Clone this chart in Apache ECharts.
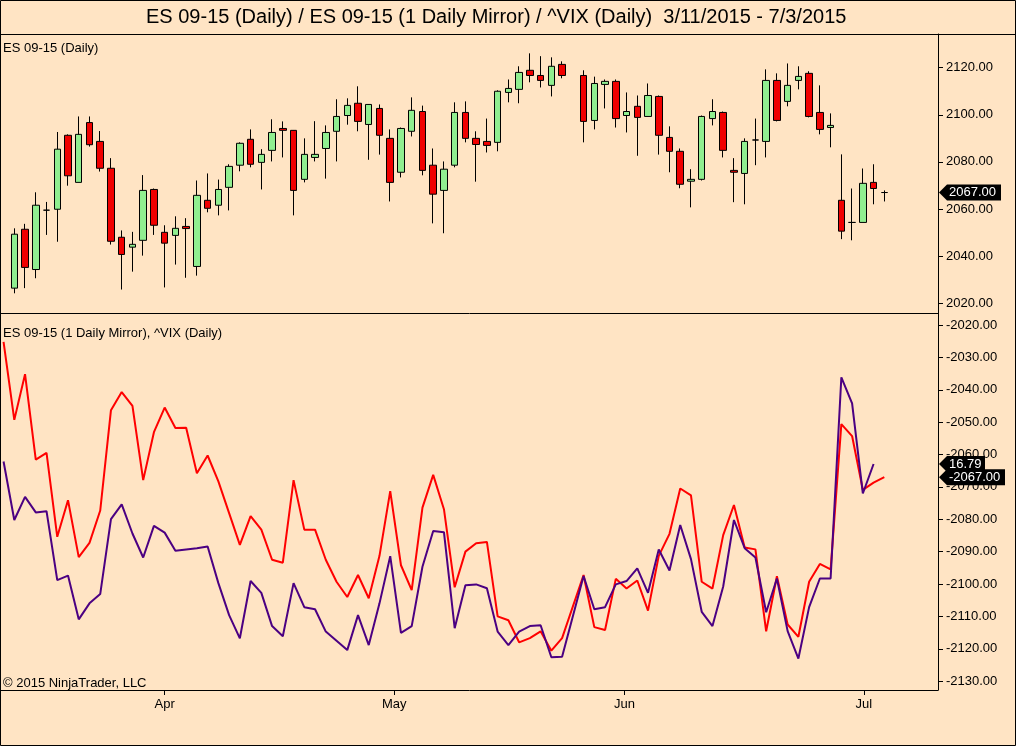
<!DOCTYPE html>
<html>
<head>
<meta charset="utf-8">
<script src="https://cdn.jsdelivr.net/npm/echarts@6/dist/echarts.min.js"></script>
<style>
    html, body { margin: 0; padding: 0; background: #FFE4C4; }
    #chart { width: 1016px; height: 746px; }
</style>
</head>
<body>
<div id="chart"></div>
<script>
// ES 09-15 daily bars, one slot per session (slot 0 = 3/12). Slot 52 is Memorial Day: no bar.
const esOpen = [
    2026.4, 2051.4, 2034.3, 2059.5, 2059.9, 2091.3, 2071.3, 2096.7, 2088.7, 2077.3,
    2048.0, 2043.8, 2046.7, 2068.3, 2050.1, 2048.8, 2052.6, 2035.6, 2063.7, 2061.6,
    2069.2, 2078.6, 2089.6, 2079.8, 2084.9, 2094.2, 2093.4, 2072.6, 2081.9, 2085.7,
    2093.0, 2099.7, 2104.9, 2095.9, 2102.7, 2090.0, 2075.6, 2093.0, 2101.4, 2078.6,
    2067.9, 2078.6, 2101.0, 2090.0, 2088.7, 2088.3, 2109.5, 2110.8, 2118.9, 2116.7,
    2112.5, 2121.4, null, 2116.7, 2097.6, 2112.9, 2114.2, 2099.7, 2103.6, 2099.3,
    2107.8, 2090.4, 2084.5, 2071.8, 2072.6, 2098.4, 2101.0, 2076.4, 2075.1, 2089.3,
    2088.7, 2114.6, 2105.7, 2114.6, 2117.6, 2101.0, 2094.6, 2063.7, 2054.3, 2054.3,
    2071.3, 2067.0
];
const esHigh = [
    2051.8, 2053.7, 2067.1, 2063.0, 2092.7, 2091.7, 2099.3, 2099.3, 2093.1, 2081.6,
    2050.9, 2050.3, 2074.4, 2068.7, 2053.1, 2056.9, 2056.1, 2072.1, 2075.1, 2072.5,
    2079.0, 2088.3, 2093.8, 2085.4, 2098.1, 2097.2, 2093.5, 2090.0, 2097.3, 2095.5,
    2106.6, 2107.0, 2112.1, 2104.5, 2104.4, 2093.8, 2094.6, 2107.4, 2103.9, 2085.7,
    2080.2, 2105.3, 2105.7, 2093.0, 2098.4, 2110.4, 2115.0, 2120.6, 2126.1, 2124.9,
    2124.4, 2122.7, null, 2118.9, 2116.2, 2115.0, 2115.0, 2109.5, 2108.2, 2113.3,
    2108.2, 2095.1, 2085.7, 2076.9, 2099.7, 2106.6, 2101.4, 2081.6, 2090.0, 2098.4,
    2119.3, 2117.6, 2121.8, 2120.6, 2118.5, 2112.5, 2100.6, 2083.2, 2068.7, 2077.2,
    2079.0, 2067.9
];
const esLow = [
    2024.2, 2026.4, 2030.6, 2049.0, 2046.1, 2069.9, 2071.3, 2086.5, 2075.9, 2044.9,
    2025.8, 2033.4, 2040.2, 2049.0, 2026.7, 2036.4, 2030.8, 2031.7, 2058.6, 2057.3,
    2059.4, 2076.0, 2077.7, 2068.3, 2080.2, 2081.9, 2057.3, 2071.3, 2080.2, 2072.9,
    2080.2, 2095.8, 2093.0, 2080.9, 2083.1, 2063.2, 2073.4, 2090.8, 2074.3, 2053.9,
    2049.7, 2077.7, 2088.3, 2071.6, 2084.0, 2084.5, 2105.3, 2104.9, 2113.8, 2111.6,
    2107.8, 2115.5, null, 2088.3, 2093.8, 2102.7, 2094.6, 2092.5, 2082.6, 2099.3,
    2083.1, 2075.6, 2068.8, 2060.7, 2072.1, 2095.5, 2081.9, 2062.9, 2062.0, 2078.6,
    2081.9, 2097.2, 2103.6, 2110.8, 2098.9, 2091.7, 2086.2, 2047.2, 2046.7, 2054.3,
    2062.0, 2063.2
];
const esClose = [
    2049.3, 2035.2, 2061.6, 2059.5, 2085.4, 2074.1, 2091.7, 2087.3, 2077.3, 2046.3,
    2040.7, 2045.0, 2067.9, 2053.1, 2045.5, 2051.8, 2051.7, 2065.8, 2060.3, 2068.3,
    2078.1, 2087.9, 2079.0, 2083.2, 2092.5, 2093.4, 2067.9, 2083.2, 2083.2, 2092.5,
    2099.3, 2104.0, 2097.2, 2104.4, 2091.3, 2071.3, 2094.2, 2101.9, 2076.4, 2066.3,
    2076.9, 2101.0, 2090.0, 2087.4, 2087.0, 2110.0, 2111.2, 2118.0, 2116.7, 2114.6,
    2120.6, 2116.7, null, 2097.2, 2113.3, 2114.2, 2098.4, 2101.4, 2098.9, 2108.2,
    2091.3, 2084.5, 2070.5, 2072.6, 2099.3, 2101.4, 2084.9, 2075.6, 2088.7, 2089.3,
    2114.6, 2097.6, 2112.5, 2116.3, 2099.3, 2093.8, 2095.5, 2050.6, 2054.3, 2070.9,
    2068.7, 2067.0
];

// lower panel series start one slot earlier (slot -1 = 3/11)
const mirrorClose = [
    -2025.2,
    -2049.3, -2035.2, -2061.6, -2059.5, -2085.4, -2074.1, -2091.7, -2087.3, -2077.3, -2046.3,
    -2040.7, -2045.0, -2067.9, -2053.1, -2045.5, -2051.8, -2051.7, -2065.8, -2060.3, -2068.3,
    -2078.1, -2087.9, -2079.0, -2083.2, -2092.5, -2093.4, -2067.9, -2083.2, -2083.2, -2092.5,
    -2099.3, -2104.0, -2097.2, -2104.4, -2091.3, -2071.3, -2094.2, -2101.9, -2076.4, -2066.3,
    -2076.9, -2101.0, -2090.0, -2087.4, -2087.0, -2110.0, -2111.2, -2118.0, -2116.7, -2114.6,
    -2120.6, -2116.7, null, -2097.2, -2113.3, -2114.2, -2098.4, -2101.4, -2098.9, -2108.2,
    -2091.3, -2084.5, -2070.5, -2072.6, -2099.3, -2101.4, -2084.9, -2075.6, -2088.7, -2089.3,
    -2114.6, -2097.6, -2112.5, -2116.3, -2099.3, -2093.8, -2095.5, -2050.6, -2054.3, -2070.9,
    -2068.7, -2067.0
];
const vixClose = [
    16.85, 15.46, 16.01, 15.64, 15.67, 14.03, 14.14, 13.10, 13.48, 13.70,
    15.48, 15.83, 15.14, 14.57, 15.32, 15.16, 14.73, 14.76, 14.79, 14.83,
    13.96, 13.20, 12.65, 14.01, 13.73, 12.94, 12.70, 13.96, 13.39, 13.34,
    12.81, 12.59, 12.37, 13.20, 12.49, 13.48, 14.60, 12.78, 12.94, 14.35,
    15.20, 15.17, 12.89, 13.91, 13.93, 13.84, 12.81, 12.49, 12.81, 12.94,
    12.96, 12.20, 12.21, null, 14.13, 13.34, 13.39, 13.93, 14.01, 14.31,
    13.73, 14.76, 14.26, 15.34, 14.53, 13.28, 12.94, 13.88, 15.46, 14.79,
    14.57, 13.27, 14.07, 12.82, 12.17, 13.39, 14.07, 14.07, 18.85, 18.23,
    16.09, 16.79
];

// month ticks sit between sessions, so they are fractional slot positions
const monthTicks = [14.0, 35.38, 56.8, 79.1];
const monthLabels = ['Apr', 'May', 'Jun', 'Jul'];
const priceTicks = [2020, 2040, 2060, 2080, 2100, 2120];
const mirrorTicks = [-2020, -2030, -2040, -2050, -2060, -2070, -2080, -2090, -2100, -2110, -2120, -2130];

const FONT = '"Liberation Sans", Arial, sans-serif';
const X_MIN = -1.238, X_MAX = 85.998;

let chart = echarts.init(document.getElementById('chart'));

const candles = [];
esOpen.forEach(function (o, i) {
    if (o == null) return;
    candles.push([i, o, esClose[i], esLow[i], esHigh[i]]);
});
const mirrorData = mirrorClose.map(function (v, i) { return [i - 1, v]; });
const vixData = vixClose.map(function (v, i) { return [i - 1, v]; });

const rightAxis = function (grid, min, max, ticks) {
    return {
        type: 'value', gridIndex: grid, position: 'right', min: min, max: max,
        axisLine: {show: true, onZero: false, lineStyle: {color: '#000', width: 1}},
        axisTick: {show: true, length: 5, customValues: ticks, lineStyle: {color: '#000'}},
        axisLabel: {
            customValues: ticks, margin: 8, color: '#000', fontSize: 13, fontFamily: FONT,
            formatter: function (v) { return v.toFixed(2); }
        },
        splitLine: {show: false}
    };
};

let option = {
    animation: false,
    backgroundColor: '#FFE4C4',
    grid: [
        {left: 1, right: 78, top: 34, height: 279},
        {left: 1, right: 78, top: 313, height: 377}
    ],
    xAxis: [
        {
            type: 'value', gridIndex: 0, min: X_MIN, max: X_MAX,
            axisLine: {show: true, onZero: false, lineStyle: {color: '#000'}},
            axisTick: {show: false}, axisLabel: {show: false}, splitLine: {show: false}
        },
        {
            type: 'value', gridIndex: 1, min: X_MIN, max: X_MAX,
            axisLine: {show: true, onZero: false, lineStyle: {color: '#000'}},
            axisTick: {show: true, length: 5, customValues: monthTicks, lineStyle: {color: '#000'}},
            axisLabel: {
                customValues: monthTicks, margin: 8, color: '#000', fontSize: 13, fontFamily: FONT,
                formatter: function (v) {
                    let k = monthTicks.indexOf(v);
                    return k >= 0 ? monthLabels[k] : '';
                }
            },
            splitLine: {show: false}
        }
    ],
    yAxis: [
        rightAxis(0, 2015.84, 2134.31, priceTicks),
        rightAxis(1, -2132.73, -2016.29, mirrorTicks),
        // VIX has its own hidden scale on the lower panel
        {type: 'value', gridIndex: 1, show: false, min: 11.422, max: 20.377, splitLine: {show: false}}
    ],
    series: [
        {
            name: 'ES 09-15 (Daily)',
            type: 'candlestick',
            xAxisIndex: 0, yAxisIndex: 0,
            encode: {x: 0, y: [1, 2, 3, 4]},
            barWidth: 7,
            itemStyle: {
                color: '#90EE90', color0: '#F00000',
                borderColor: '#000', borderColor0: '#000', borderColorDoji: '#000',
                borderWidth: 1
            },
            data: candles
        },
        {
            name: 'ES 09-15 (1 Daily Mirror)',
            type: 'line',
            xAxisIndex: 1, yAxisIndex: 1,
            showSymbol: false, symbol: 'none', connectNulls: true,
            lineStyle: {color: '#FF0000', width: 2},
            data: mirrorData
        },
        {
            name: '^VIX (Daily)',
            type: 'line',
            xAxisIndex: 1, yAxisIndex: 2,
            showSymbol: false, symbol: 'none', connectNulls: true,
            lineStyle: {color: '#4B0082', width: 2},
            data: vixData
        }
    ]
};

chart.setOption(option);

// black value tags on the price axis, placed through the axes' own scales
const tag = function (y, text, right) {
    return {
        type: 'group',
        children: [
            {
                type: 'polygon',
                shape: {points: [[939, y], [947, y - 8], [right, y - 8], [right, y + 8], [947, y + 8]]},
                style: {fill: '#000'}
            },
            {
                type: 'text', x: 949, y: y,
                style: {text: text, fill: '#fff', font: '13px ' + FONT, verticalAlign: 'middle'}
            }
        ]
    };
};

const lastClose = esClose[esClose.length - 1];
const lastVix = vixClose[vixClose.length - 1];
const yPrice = chart.convertToPixel({yAxisIndex: 0}, lastClose);
const yMirror = chart.convertToPixel({yAxisIndex: 1}, mirrorClose[mirrorClose.length - 1]);
const yVix = chart.convertToPixel({yAxisIndex: 2}, lastVix);

chart.setOption({
    graphic: [
        {type: 'rect', shape: {x: 0.5, y: 0.5, width: 1015, height: 745}, style: {fill: null, stroke: '#000', lineWidth: 1}},
        {type: 'line', shape: {x1: 0, y1: 34.5, x2: 1016, y2: 34.5}, style: {stroke: '#000', lineWidth: 1}},
        {
            type: 'text', x: 146, y: 17,
            style: {
                text: 'ES 09-15 (Daily) / ES 09-15 (1 Daily Mirror) / ^VIX (Daily)  3/11/2015 - 7/3/2015',
                fill: '#000', font: '20px ' + FONT, verticalAlign: 'middle'
            }
        },
        {type: 'text', x: 3, y: 48, style: {text: 'ES 09-15 (Daily)', fill: '#000', font: '13px ' + FONT, verticalAlign: 'middle'}},
        {type: 'text', x: 3, y: 333, style: {text: 'ES 09-15 (1 Daily Mirror), ^VIX (Daily)', fill: '#000', font: '13px ' + FONT, verticalAlign: 'middle'}},
        {type: 'text', x: 3, y: 683, style: {text: '\u00A9 2015 NinjaTrader, LLC', fill: '#000', font: '13px ' + FONT, verticalAlign: 'middle'}},
        tag(yPrice, lastClose.toFixed(2), 1001),
        tag(yVix, lastVix.toFixed(2), 985),
        tag(yMirror, mirrorClose[mirrorClose.length - 1].toFixed(2), 1005)
    ]
});
</script>
</body>
</html>
